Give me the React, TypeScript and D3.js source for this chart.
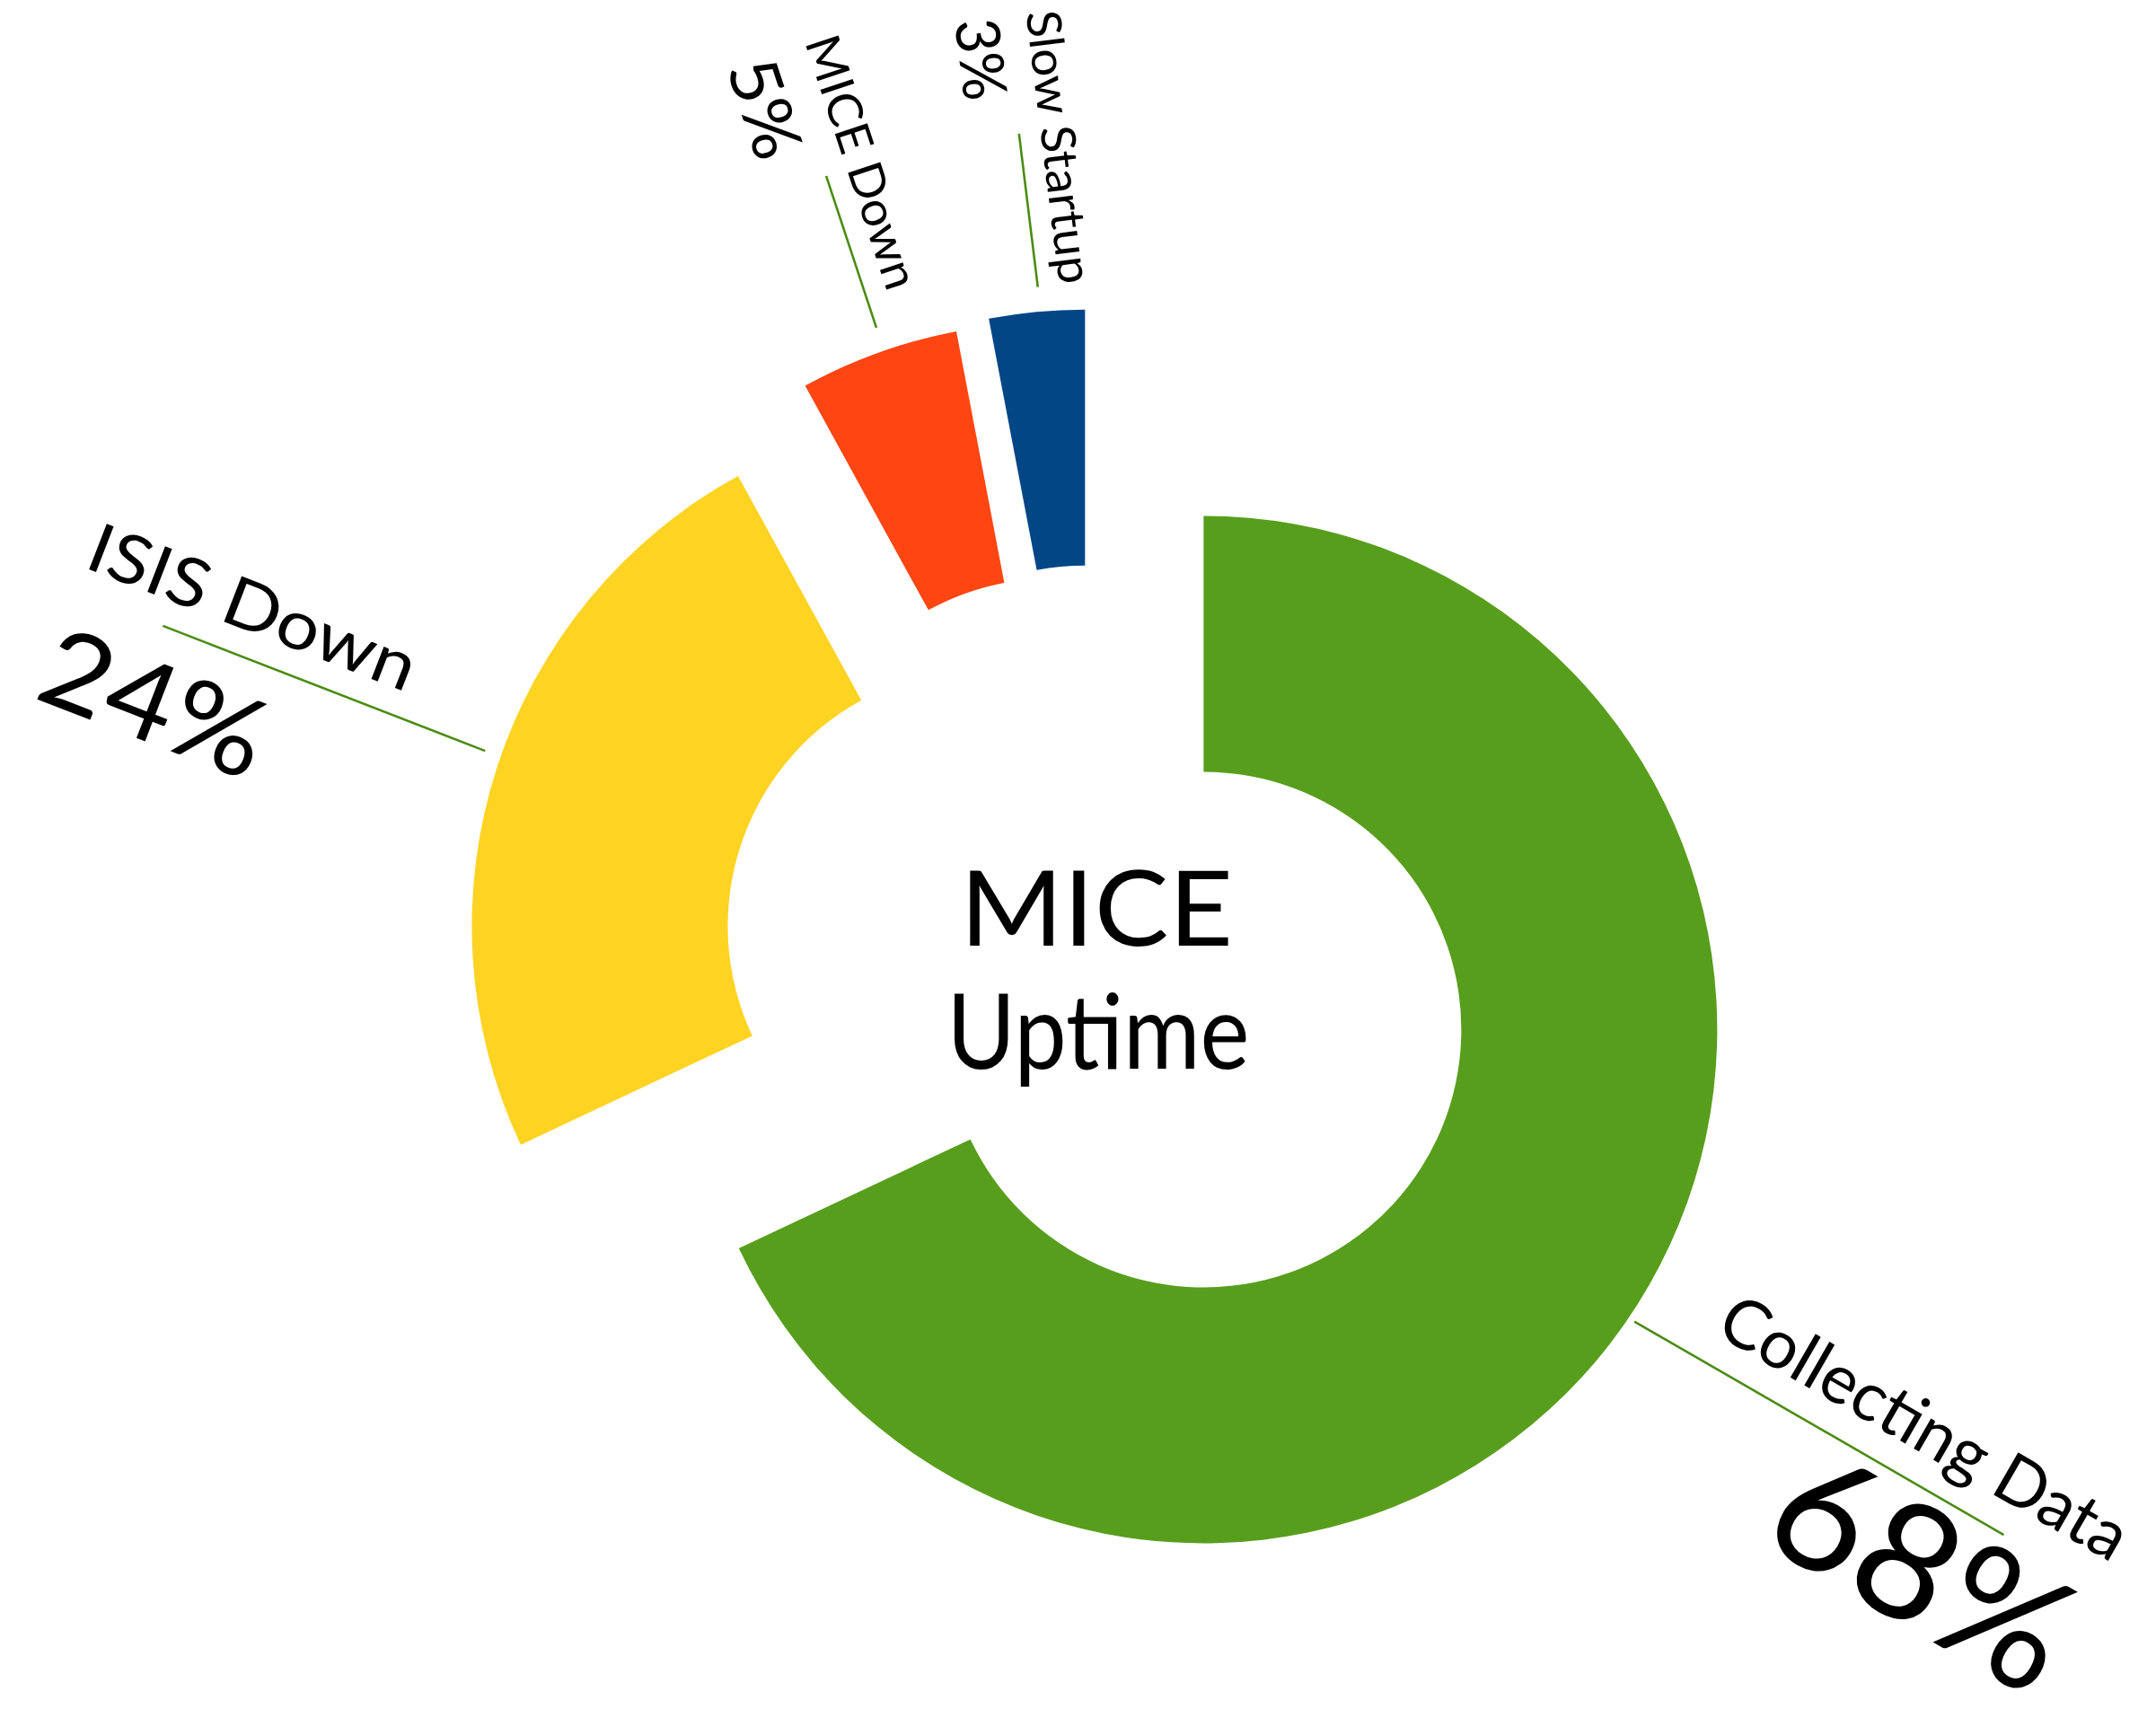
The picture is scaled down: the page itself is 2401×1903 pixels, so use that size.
import React from "react";
import * as d3 from "d3";

const categories = ["Collecting Data", "ISIS Down", "MICE Down", "Slow Startup"];
const shares = [68, 24, 5, 3];
const colors = ["#589e1d", "#fed322", "#ff4511", "#024686"];
const title = ["MICE", "Uptime"];

const width = 2401;
const height = 1903;
const cx = 1223;
const cy = 1072;
const innerR = 287;
const outerR = 572;
const font = "Lato, 'Open Sans', sans-serif";

// per-slice layout, placed by hand in the original
const explode = [139, 132, 150, 156];
const rayTilt = [-2.4, 3.2, 1.5, -1.6]; // degrees off the slice middle
const rayShift = [41.6, 19.6, 8.6, -20.6]; // px toward the percent side
const leaderFrom = [578, 590, 599, 599];
const leaderTo = [1053, 975, 777, 771];
const labelGap = [120, 107, 149, 133];
const labelSize = [76, 76, 53, 53];
const labelLen = [512, 386, 294, 306];
const labelRise = [33, 29, 24, 24];
const pctLen = [355, 259, 113, 91];
const pctDrop = [143, 127, 68, 56];

export default function App() {
  const arcs = d3.pie<number>().sort(null).value(d => d)(shares);
  const arc = d3.arc<d3.PieArcDatum<number>>()
    .innerRadius(innerR)
    .outerRadius(outerR);
  const pctSize = d3.scaleSqrt().domain([3, 68]).range([68, 180]);

  return (
    <svg
      width={width}
      height={height}
      viewBox={`0 0 ${width} ${height}`}
      style={{ position: "absolute", left: 0, top: 0, display: "block", background: "#fff" }}
    >
      {arcs.map((a, i) => {
        const mid = (a.startAngle + a.endAngle) / 2;
        const px = cx + Math.sin(mid) * explode[i];
        const py = cy - Math.cos(mid) * explode[i];

        // label ray
        const t = mid + (rayTilt[i] * Math.PI) / 180;
        const ux = Math.sin(t);
        const uy = -Math.cos(t);
        const left = t > Math.PI;
        const deg = (t * 180) / Math.PI;
        const rot = left ? deg - 270 : deg - 90;
        const rr = (rot * Math.PI) / 180;
        const qx = px - Math.sin(rr) * rayShift[i];
        const qy = py + Math.cos(rr) * rayShift[i];
        const ar = leaderTo[i] + labelGap[i];
        const ax = qx + ux * ar;
        const ay = qy + uy * ar;
        const anchor = left ? "start" : "end";
        return (
          <g key={categories[i]}>
            <path d={arc(a) || ""} transform={`translate(${px},${py})`} fill={colors[i]} />
            <line
              x1={qx + ux * leaderFrom[i]}
              y1={qy + uy * leaderFrom[i]}
              x2={qx + ux * leaderTo[i]}
              y2={qy + uy * leaderTo[i]}
              stroke="#4b8b12"
              strokeWidth={2.6}
            />
            <g transform={`translate(${ax},${ay}) rotate(${rot})`} fontFamily={font} fill="#000">
              <text
                x={0}
                y={-labelRise[i]}
                textAnchor={anchor}
                fontSize={labelSize[i]}
                textLength={labelLen[i]}
                lengthAdjust="spacingAndGlyphs"
              >
                {categories[i]}
              </text>
              <text
                x={0}
                y={pctDrop[i]}
                textAnchor={anchor}
                fontSize={pctSize(shares[i])}
                textLength={pctLen[i]}
                lengthAdjust="spacingAndGlyphs"
              >
                {`${shares[i]}%`}
              </text>
            </g>
          </g>
        );
      })}
      <g fontFamily={font} fill="#000" textAnchor="middle" fontSize={116}>
        <text x={1221} y={1053} textLength={304} lengthAdjust="spacingAndGlyphs">{title[0]}</text>
        <text x={1223} y={1190} textLength={337} lengthAdjust="spacingAndGlyphs">{title[1]}</text>
      </g>
    </svg>
  );
}
